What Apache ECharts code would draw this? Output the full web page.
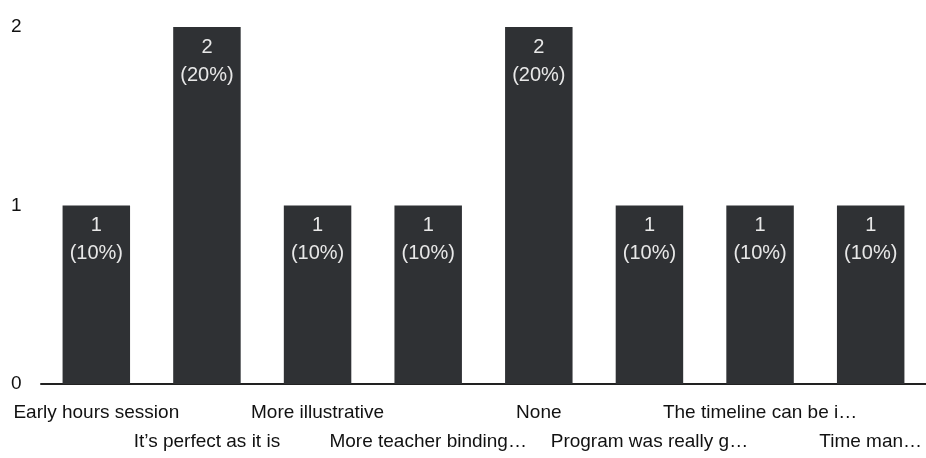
<!DOCTYPE html>
<html>
<head>
<meta charset="utf-8">
<script src="https://cdn.jsdelivr.net/npm/echarts@6/dist/echarts.min.js"></script>
<style>
  html, body { margin: 0; padding: 0; background: #fff; }
  #chart { width: 926px; height: 458px; }
</style>
</head>
<body>
<div id="chart"></div>
<script>
const categories = [
  'Early hours session',
  'It’s perfect as it is',
  'More illustrative',
  'More teacher binding…',
  'None',
  'Program was really g…',
  'The timeline can be i…',
  'Time man…',
];
const counts = [1, 2, 1, 1, 2, 1, 1, 1];
const yTicks = [0, 1, 2];

const total = counts.reduce((a, b) => a + b, 0);

const chart = echarts.init(document.getElementById('chart'));
chart.setOption({
  animation: false,
  grid: { left: 41, right: -3, top: 27, bottom: 74 },
  xAxis: {
    type: 'category',
    data: categories,
    axisLine: { lineStyle: { color: '#222', width: 2 } },
    axisTick: { show: false },
    axisLabel: {
      interval: 0,
      color: '#111',
      fontSize: 19,
      fontFamily: 'Liberation Sans, Arial, sans-serif',
      lineHeight: 29,
      margin: 14,
      formatter: (v, i) => (i % 2 === 1 ? '\n' + v : v),
    },
  },
  yAxis: {
    type: 'value',
    min: 0,
    max: 2,
    interval: 1,
    axisLine: { show: false },
    axisTick: { show: false },
    splitLine: { show: false },
    axisLabel: {
      color: '#111',
      fontSize: 19,
      fontFamily: 'Liberation Sans, Arial, sans-serif',
      margin: 30,
      align: 'left',
      formatter: (v) => (yTicks.includes(v) ? String(v) : ''),
    },
  },
  series: [
    {
      type: 'bar',
      data: counts,
      barWidth: '61%',
      itemStyle: { color: '#2f3134' },
      label: {
        show: true,
        position: 'insideTop',
        distance: 6,
        color: '#e8e8e8',
        fontSize: 20,
        lineHeight: 28,
        fontFamily: 'Liberation Sans, Arial, sans-serif',
        formatter: (p) => p.value + '\n(' + Math.round(p.value / total * 100) + '%)',
      },
    },
  ],
});
</script>
</body>
</html>
